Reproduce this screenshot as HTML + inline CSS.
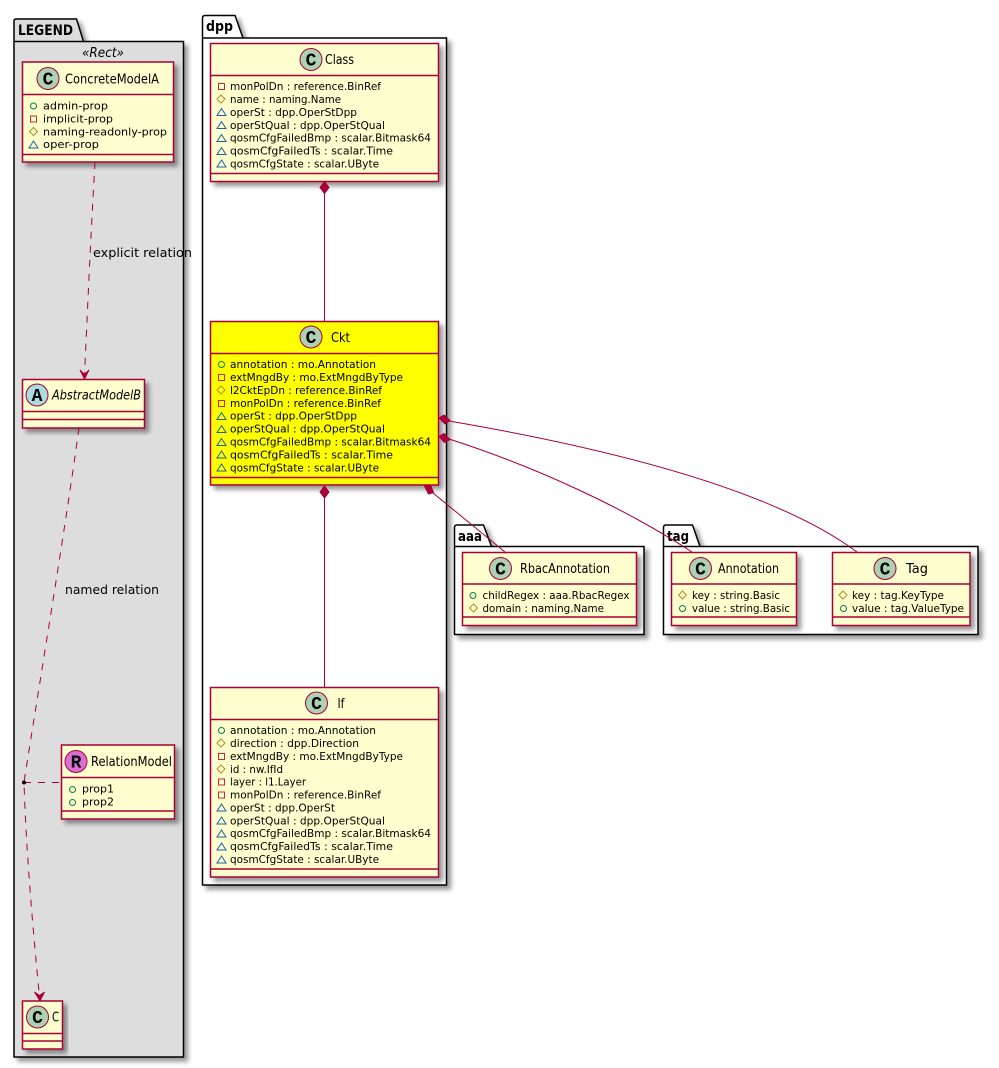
<!DOCTYPE html>
<html><head><meta charset="utf-8"><style>
html,body{margin:0;padding:0;background:#fff;width:999px;height:1068px;overflow:hidden}
svg{display:block}
text{font-family:"DejaVu Sans","Liberation Sans",sans-serif;font-size:11px;fill:#000}
.t{font-size:13px}
.i{font-style:italic}
.p{font-weight:bold;font-size:14px}
.l{font-size:12px}
.g{font-family:"Liberation Mono",monospace;font-weight:bold;font-size:18px;text-anchor:middle}
.pk{fill:#fff;stroke:#000;stroke-width:1.5}
.lg{fill:#DDD}
.b{fill:#FEFECE;stroke:#A80036;stroke-width:1.5}
.d{fill:none;stroke:#A80036;stroke-width:1.5}
.c{fill:#ADD1B2;stroke:#A80036;stroke-width:1}
.ln{fill:none;stroke:#A80036;stroke-width:1}
.da{stroke-dasharray:7,7}
.ah{fill:#A80036;stroke:#A80036;stroke-width:1}
</style></head><body>
<svg width="999" height="1068" viewBox="0 0 999 1068" xmlns="http://www.w3.org/2000/svg">
<defs>
<filter id="s" x="-10%" y="-10%" width="125%" height="125%"><feGaussianBlur in="SourceAlpha" stdDeviation="2.5"/><feOffset dx="4" dy="4"/><feColorMatrix type="matrix" values="0 0 0 0 0  0 0 0 0 0  0 0 0 0 0  0 0 0 .4 0"/><feMerge><feMergeNode/><feMergeNode in="SourceGraphic"/></feMerge></filter>
<g id="o"><circle r="3" fill="none" stroke="#038048"/></g>
<g id="q"><rect x="-3" y="-3" width="6" height="6" fill="none" stroke="#C82930"/></g>
<g id="h"><path d="M0,-4L4,0L0,4L-4,0Z" fill="none" stroke="#B38D22"/></g>
<g id="v"><path d="M0,-3.5L4.5,3.5H-4.5Z" fill="none" stroke="#1963A0"/></g>
</defs>

<!-- packages -->
<g filter="url(#s)"><path class="pk lg" d="M14,41V21Q14,19 16,19H76.500L83.500,41.500H183.500V1057H14Z"/><path class="pk lg" style="fill:none" d="M14,41.500H83.500"/></g>
<text class="p" x="18" y="35" textLength="55" lengthAdjust="spacingAndGlyphs">LEGEND</text>
<g filter="url(#s)"><path class="pk" d="M202.500,38V18Q202.500,15.500 205,15.500H235L243,38H446.500V885H202.500Z"/><path class="pk" d="M202.500,38H243"/></g>
<text class="p" x="206" y="31" textLength="27" lengthAdjust="spacingAndGlyphs">dpp</text>
<g filter="url(#s)"><path class="pk" d="M454.500,546.500V527.500Q454.500,525 457,525H483.500L491.500,546.500H644V634.500H454.500Z"/><path class="pk" d="M454.500,546.500H491.500"/></g>
<text class="p" x="458" y="541" textLength="24" lengthAdjust="spacingAndGlyphs">aaa</text>
<g filter="url(#s)"><path class="pk" d="M663.500,546.500V527.500Q663.500,525 666,525H692.500L700,546.500H978V634.500H663.500Z"/><path class="pk" d="M663.500,546.500H700"/></g>
<text class="p" x="667" y="541" textLength="22" lengthAdjust="spacingAndGlyphs">tag</text>

<text x="82" y="57" class="i t" textLength="42" lengthAdjust="spacingAndGlyphs">«Rect»</text>

<!-- ConcreteModelA -->
<g filter="url(#s)"><rect class="b" x="22.500" y="62" width="151" height="100"/></g>
<path class="d" d="M22.500,94.500H173.500M22.500,154.500H173.500"/>
<circle class="c" cx="48" cy="78.500" r="11"/><text class="g" x="48" y="84.500">C</text>
<text class="t" x="65" y="83.500" textLength="94" lengthAdjust="spacingAndGlyphs">ConcreteModelA</text>
<use href="#o" x="33.500" y="106"/><text x="43" y="109.500" textLength="65" lengthAdjust="spacingAndGlyphs">admin-prop</text>
<use href="#q" x="33.500" y="119"/><text x="43" y="122.500" textLength="70" lengthAdjust="spacingAndGlyphs">implicit-prop</text>
<use href="#h" x="33.500" y="131.500"/><text x="43" y="135.500" textLength="124" lengthAdjust="spacingAndGlyphs">naming-readonly-prop</text>
<use href="#v" x="33.500" y="144.500"/><text x="43" y="148" textLength="56" lengthAdjust="spacingAndGlyphs">oper-prop</text>

<!-- AbstractModelB -->
<g filter="url(#s)"><rect class="b" x="22.500" y="379.500" width="122" height="48.500"/></g>
<path class="d" d="M22.500,411.500H144.500M22.500,419.500H144.500"/>
<circle cx="37" cy="395" r="11" fill="#A9DCDF" stroke="#A80036"/><text class="g" x="37" y="401">A</text>
<text class="t i" x="52" y="399.500" textLength="89" lengthAdjust="spacingAndGlyphs">AbstractModelB</text>

<!-- RelationModel -->
<g filter="url(#s)"><rect class="b" x="61.500" y="745" width="113" height="74"/></g>
<path class="d" d="M61.500,777.500H174.500M61.500,811H174.500"/>
<circle cx="76" cy="761.500" r="11" fill="#DA70D6" stroke="#A80036"/><text class="g" x="76" y="767.500">R</text>
<text class="t" x="91" y="766" textLength="81" lengthAdjust="spacingAndGlyphs">RelationModel</text>
<use href="#o" x="72.500" y="789.500"/><text x="82" y="792.500" textLength="32" lengthAdjust="spacingAndGlyphs">prop1</text>
<use href="#o" x="72.500" y="802.500"/><text x="82" y="805.500" textLength="32" lengthAdjust="spacingAndGlyphs">prop2</text>

<!-- C -->
<g filter="url(#s)"><rect class="b" x="22.500" y="1001" width="40" height="48"/></g>
<path class="d" d="M22.500,1033.500H62.500M22.500,1041H62.500"/>
<circle class="c" cx="37.500" cy="1017" r="11"/><text class="g" x="37.500" y="1023">C</text>
<text class="t" x="52" y="1021.500" textLength="7" lengthAdjust="spacingAndGlyphs">C</text>

<!-- Class -->
<g filter="url(#s)"><rect class="b" x="210.500" y="43.500" width="228" height="138"/></g>
<path class="d" d="M210.500,75.500H438.500M210.500,173.500H438.500"/>
<circle class="c" cx="311" cy="59.500" r="11"/><text class="g" x="311" y="65.500">C</text>
<text class="t" x="325" y="64" textLength="29" lengthAdjust="spacingAndGlyphs">Class</text>
<use href="#q" x="221.500" y="86.500"/><text x="230" y="90" textLength="151" lengthAdjust="spacingAndGlyphs">monPolDn : reference.BinRef</text>
<use href="#h" x="221" y="99"/><text x="230" y="103" textLength="111" lengthAdjust="spacingAndGlyphs">name : naming.Name</text>
<use href="#v" x="221.500" y="112"/><text x="230" y="116" textLength="127" lengthAdjust="spacingAndGlyphs">operSt : dpp.OperStDpp</text>
<use href="#v" x="221.500" y="125"/><text x="230" y="129" textLength="155" lengthAdjust="spacingAndGlyphs">operStQual : dpp.OperStQual</text>
<use href="#v" x="221.500" y="138"/><text x="230" y="141.500" textLength="201" lengthAdjust="spacingAndGlyphs">qosmCfgFailedBmp : scalar.Bitmask64</text>
<use href="#v" x="221.500" y="151"/><text x="230" y="154.500" textLength="163" lengthAdjust="spacingAndGlyphs">qosmCfgFailedTs : scalar.Time</text>
<use href="#v" x="221.500" y="163.500"/><text x="230" y="167.500" textLength="149" lengthAdjust="spacingAndGlyphs">qosmCfgState : scalar.UByte</text>

<!-- Ckt -->
<g filter="url(#s)"><rect class="b" style="fill:#FF0" x="210.500" y="321.500" width="228" height="163.500"/></g>
<path class="d" d="M210.500,353.500H438.500M210.500,477.500H438.500"/>
<circle class="c" cx="311" cy="337" r="11"/><text class="g" x="311" y="343">C</text>
<text class="t" x="331" y="342" textLength="19" lengthAdjust="spacingAndGlyphs">Ckt</text>
<use href="#o" x="221.500" y="364.500"/><text x="230" y="368" textLength="146" lengthAdjust="spacingAndGlyphs">annotation : mo.Annotation</text>
<use href="#q" x="221.500" y="377.500"/><text x="230" y="381" textLength="173" lengthAdjust="spacingAndGlyphs">extMngdBy : mo.ExtMngdByType</text>
<use href="#h" x="221" y="390"/><text x="230" y="394" textLength="152" lengthAdjust="spacingAndGlyphs">l2CktEpDn : reference.BinRef</text>
<use href="#q" x="221.500" y="403.500"/><text x="230" y="407" textLength="151" lengthAdjust="spacingAndGlyphs">monPolDn : reference.BinRef</text>
<use href="#v" x="221.500" y="416"/><text x="230" y="419.500" textLength="127" lengthAdjust="spacingAndGlyphs">operSt : dpp.OperStDpp</text>
<use href="#v" x="221.500" y="429"/><text x="230" y="432.500" textLength="155" lengthAdjust="spacingAndGlyphs">operStQual : dpp.OperStQual</text>
<use href="#v" x="221.500" y="442"/><text x="230" y="445.500" textLength="201" lengthAdjust="spacingAndGlyphs">qosmCfgFailedBmp : scalar.Bitmask64</text>
<use href="#v" x="221.500" y="454.500"/><text x="230" y="458.500" textLength="163" lengthAdjust="spacingAndGlyphs">qosmCfgFailedTs : scalar.Time</text>
<use href="#v" x="221.500" y="467.500"/><text x="230" y="471.500" textLength="149" lengthAdjust="spacingAndGlyphs">qosmCfgState : scalar.UByte</text>

<!-- If -->
<g filter="url(#s)"><rect class="b" x="210.500" y="687.500" width="228" height="189.500"/></g>
<path class="d" d="M210.500,719.500H438.500M210.500,869H438.500"/>
<circle class="c" cx="316.500" cy="703" r="11"/><text class="g" x="316.500" y="709">C</text>
<text class="t" x="337.500" y="708" textLength="7" lengthAdjust="spacingAndGlyphs">If</text>
<use href="#o" x="221.500" y="730.500"/><text x="230" y="734" textLength="146" lengthAdjust="spacingAndGlyphs">annotation : mo.Annotation</text>
<use href="#h" x="221" y="743"/><text x="230" y="747" textLength="129" lengthAdjust="spacingAndGlyphs">direction : dpp.Direction</text>
<use href="#q" x="221.500" y="756.500"/><text x="230" y="760" textLength="173" lengthAdjust="spacingAndGlyphs">extMngdBy : mo.ExtMngdByType</text>
<use href="#h" x="221" y="769"/><text x="230" y="773" textLength="53" lengthAdjust="spacingAndGlyphs">id : nw.IfId</text>
<use href="#q" x="221.500" y="782"/><text x="230" y="785.500" textLength="76" lengthAdjust="spacingAndGlyphs">layer : l1.Layer</text>
<use href="#q" x="221.500" y="795"/><text x="230" y="798.500" textLength="151" lengthAdjust="spacingAndGlyphs">monPolDn : reference.BinRef</text>
<use href="#v" x="221.500" y="807.500"/><text x="230" y="811.500" textLength="105" lengthAdjust="spacingAndGlyphs">operSt : dpp.OperSt</text>
<use href="#v" x="221.500" y="820.500"/><text x="230" y="824.500" textLength="155" lengthAdjust="spacingAndGlyphs">operStQual : dpp.OperStQual</text>
<use href="#v" x="221.500" y="833.500"/><text x="230" y="837" textLength="201" lengthAdjust="spacingAndGlyphs">qosmCfgFailedBmp : scalar.Bitmask64</text>
<use href="#v" x="221.500" y="846.500"/><text x="230" y="850" textLength="163" lengthAdjust="spacingAndGlyphs">qosmCfgFailedTs : scalar.Time</text>
<use href="#v" x="221.500" y="859.500"/><text x="230" y="863" textLength="149" lengthAdjust="spacingAndGlyphs">qosmCfgState : scalar.UByte</text>

<!-- RbacAnnotation -->
<g filter="url(#s)"><rect class="b" x="462.500" y="552.500" width="174" height="73"/></g>
<path class="d" d="M462.500,584H636.500M462.500,617H636.500"/>
<circle class="c" cx="500.500" cy="568.500" r="11"/><text class="g" x="500.500" y="574.500">C</text>
<text class="t" x="520" y="573" textLength="90" lengthAdjust="spacingAndGlyphs">RbacAnnotation</text>
<use href="#o" x="473" y="595.500"/><text x="482.500" y="599" textLength="147" lengthAdjust="spacingAndGlyphs">childRegex : aaa.RbacRegex</text>
<use href="#h" x="473.500" y="608"/><text x="482.500" y="612" textLength="121.500" lengthAdjust="spacingAndGlyphs">domain : naming.Name</text>

<!-- Annotation -->
<g filter="url(#s)"><rect class="b" x="671.500" y="552.500" width="125" height="73"/></g>
<path class="d" d="M671.500,584H796.500M671.500,617H796.500"/>
<circle class="c" cx="700.500" cy="568.500" r="11"/><text class="g" x="700.500" y="574.500">C</text>
<text class="t" x="718" y="573" textLength="61" lengthAdjust="spacingAndGlyphs">Annotation</text>
<use href="#h" x="682.500" y="595"/><text x="692" y="599" textLength="88" lengthAdjust="spacingAndGlyphs">key : string.Basic</text>
<use href="#o" x="682.500" y="608.500"/><text x="692" y="612" textLength="98" lengthAdjust="spacingAndGlyphs">value : string.Basic</text>

<!-- Tag -->
<g filter="url(#s)"><rect class="b" x="832.500" y="552.500" width="137.500" height="73"/></g>
<path class="d" d="M832.500,584H970M832.500,617H970"/>
<circle class="c" cx="885" cy="568.500" r="11"/><text class="g" x="885" y="574.500">C</text>
<text class="t" x="906" y="573" textLength="22" lengthAdjust="spacingAndGlyphs">Tag</text>
<use href="#h" x="843" y="595"/><text x="852" y="599" textLength="92" lengthAdjust="spacingAndGlyphs">key : tag.KeyType</text>
<use href="#o" x="843.500" y="608.500"/><text x="852" y="612" textLength="112" lengthAdjust="spacingAndGlyphs">value : tag.ValueType</text>

<!-- connectors -->
<path class="ln" d="M324.500,193V321"/>
<path class="ah" d="M324.500,181.500L329,187.500L324.500,193.500L320,187.500Z"/>
<path class="ln" d="M324.500,498V687"/>
<path class="ah" d="M324.500,486L329,492L324.500,498L320,492Z"/>
<path class="ln" d="M433,493L505,552"/>
<path class="ah" d="M424.500,486L431,486L433.500,492.500L428.500,494Z"/>
<path class="ln" d="M449,439C530,465 620,505 692,552"/>
<path class="ah" d="M439,436.500L444,433.500L450,439.500L444.500,442.500Z"/>
<path class="ln" d="M449,421C560,440 760,480 857,552"/>
<path class="ah" d="M439,418L444,415L450,420.500L445,424Z"/>

<path class="ln da" d="M95,162C91,230 87,320 84.500,376"/>
<path class="ah" d="M84.500,379L80,370L84.500,374.500L89,370Z"/>
<text class="l" x="93" y="257" textLength="99" lengthAdjust="spacingAndGlyphs">explicit relation</text>
<path class="ln da" d="M79,428C65,530 40,680 24,782C26,850 33,930 39.500,997"/>
<path class="ah" d="M40,1001L34.500,992L39.500,995.500L44.500,992Z"/>
<path class="ln da" d="M24,782.500H61.500"/>
<circle cx="24" cy="782.500" r="2" fill="#000"/>
<text class="l" x="65" y="594" textLength="94" lengthAdjust="spacingAndGlyphs">named relation</text>
</svg>
</body></html>
